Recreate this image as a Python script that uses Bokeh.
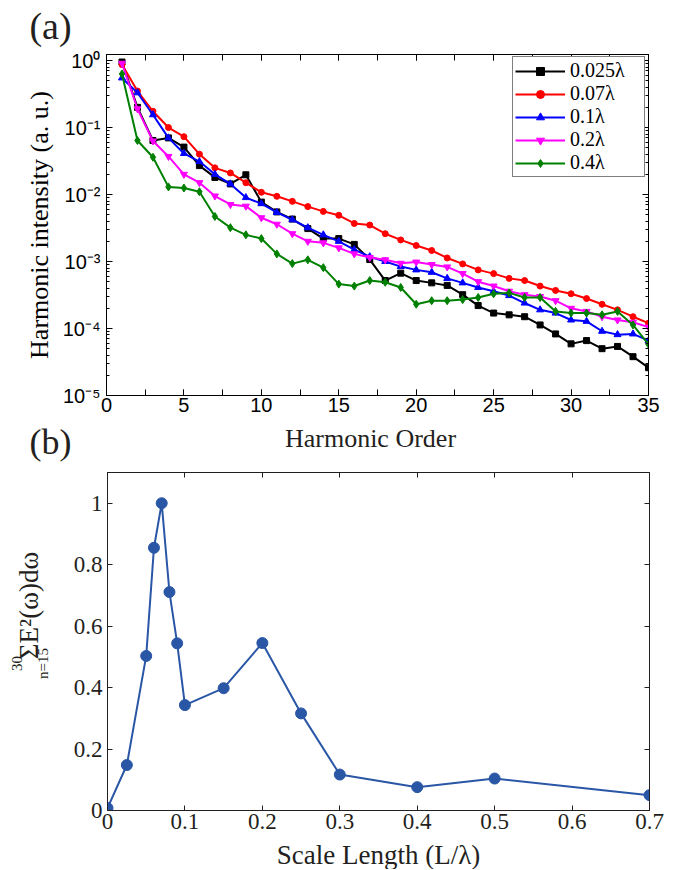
import math
from bokeh.plotting import figure
from bokeh.layouts import column, row
from bokeh.models import (Range1d, LogAxis, LinearAxis, LogTicker, SingleIntervalTicker, FixedTicker,
                          CustomJSTickFormatter, Legend, LegendItem, Label)
from bokeh.embed import file_html
from bokeh.resources import INLINE

# ---------------- data: panel (a) ----------------
harmonic_order = list(range(1, 36))
series_labels = ["0.025λ", "0.07λ", "0.1λ", "0.2λ", "0.4λ"]

int_0025 = [0.95, 0.20, 0.064, 0.070, 0.051, 0.027, 0.018, 0.0144, 0.0197, 0.0077,
            0.0055, 0.0043, 0.0031, 0.0022, 0.0022, 0.0018, 0.00107, 0.00052, 0.00067, 0.00052,
            0.00048, 0.00044, 0.00032, 0.00022, 0.00017, 0.00016, 0.00015, 0.000113, 0.000083, 0.000059,
            0.000066, 0.000050, 0.000054, 0.000038, 0.000026]
int_007 = [0.87, 0.35, 0.175, 0.10, 0.073, 0.040, 0.025, 0.021, 0.0150, 0.0108,
           0.0094, 0.0079, 0.0066, 0.0056, 0.0049, 0.0037, 0.0035, 0.0026, 0.0021, 0.00173,
           0.00146, 0.00113, 0.00092, 0.00075, 0.00066, 0.00056, 0.00052, 0.00043, 0.00037, 0.00033,
           0.00028, 0.00023, 0.00019, 0.00015, 0.00012]
int_01 = [0.55, 0.33, 0.155, 0.070, 0.041, 0.031, 0.020, 0.0144, 0.0090, 0.0073,
          0.0054, 0.0042, 0.0032, 0.0025, 0.0020, 0.0015, 0.00118, 0.0010, 0.00084, 0.00075,
          0.00069, 0.00056, 0.00048, 0.00041, 0.00036, 0.00031, 0.00024, 0.00019, 0.00017, 0.000134,
          0.000128, 0.000091, 0.000081, 0.000083, 0.000066]
int_02 = [0.91, 0.19, 0.063, 0.037, 0.020, 0.015, 0.0095, 0.0071, 0.0067, 0.0045,
          0.0036, 0.0026, 0.0020, 0.0019, 0.0016, 0.0013, 0.00115, 0.00106, 0.00094, 0.00098,
          0.00090, 0.00083, 0.00066, 0.00050, 0.00043, 0.00036, 0.00032, 0.00030, 0.00026, 0.00020,
          0.00018, 0.00015, 0.000134, 0.000124, 0.000105]
int_04 = [0.63, 0.064, 0.036, 0.013, 0.0125, 0.011, 0.0047, 0.0032, 0.0025, 0.0022,
          0.0013, 0.00093, 0.00106, 0.00081, 0.00046, 0.00043, 0.00052, 0.00049, 0.00041, 0.00023,
          0.00026, 0.00026, 0.00027, 0.00029, 0.00033, 0.00034, 0.00029, 0.00029, 0.00018, 0.00017,
          0.00017, 0.00016, 0.00018, 0.000113, 0.000058]

# ---------------- data: panel (b) ----------------
scale_length = [0, 0.025, 0.05, 0.06, 0.07, 0.08, 0.09, 0.1, 0.15, 0.2, 0.25, 0.3, 0.4, 0.5, 0.7]
energy = [0.008, 0.148, 0.503, 0.855, 1.0, 0.711, 0.544, 0.343, 0.398, 0.545, 0.316, 0.117, 0.076, 0.104, 0.05]
scale_ticks = [0, 0.1, 0.2, 0.3, 0.4, 0.5, 0.6, 0.7]
energy_ticks = [0, 0.2, 0.4, 0.6, 0.8, 1.0]

series_values = [int_0025, int_007, int_01, int_02, int_04]
colors = ["#000000", "#ff0000", "#0000ff", "#ff00ff", "#008000"]
markers = ["square", "circle", "triangle", "inverted_triangle", "diamond"]
msizes = [6, 6, 7, 7, 8]

SERIF = "Liberation Serif"
SANS = "Liberation Sans"
DARK = "#231f20"
W = 678


def style_axis(ax, tick_in=6, minor_in=3, color="black"):
    ax.major_tick_in = tick_in
    ax.major_tick_out = 0
    ax.minor_tick_in = minor_in
    ax.minor_tick_out = 0
    ax.axis_line_color = color
    ax.major_tick_line_color = color
    ax.minor_tick_line_color = color


def blank_formatter():
    return CustomJSTickFormatter(code="return ''")


def strip(w, h):
    s = figure(width=w, height=h, x_range=Range1d(0, 1), y_range=Range1d(0, 1),
               x_axis_location=None, y_axis_location=None, min_border=0,
               output_backend="svg", toolbar_location=None)
    s.frame_align = False
    s.grid.visible = False
    s.outline_line_color = None
    s.background_fill_color = "white"
    s.border_fill_color = "white"
    return s


def text_label(x, y, text, size, color, angle=0.0):
    return Label(x=x, y=y, x_units="screen", y_units="screen", text=text, angle=angle,
                 text_font=SERIF, text_font_size=size, text_color=color,
                 text_align="center", text_baseline="middle")


# ---------------- strip with "(a)" ----------------
strip_a = strip(W, 48)
strip_a.add_layout(text_label(50, 23, "(a)", "38px", DARK))

# ---------------- panel (a) ----------------
p1 = figure(width=W, height=373, y_axis_type="log",
            x_range=Range1d(0, 35), y_range=Range1d(1e-5, 1.23),
            output_backend="svg", toolbar_location=None,
            min_border_left=106, min_border_right=30, min_border_top=6, min_border_bottom=26)
p1.xgrid.visible = False
p1.ygrid.visible = False
p1.outline_line_color = "black"
p1.background_fill_color = "white"
p1.border_fill_color = "white"

p1.xaxis.ticker = SingleIntervalTicker(interval=5, num_minor_ticks=2)
p1.yaxis.ticker = LogTicker(num_minor_ticks=10)
sup_code = """
const e = Math.round(Math.log10(tick));
const sup = {"-":"\u207b","0":"\u2070","1":"\u00b9","2":"\u00b2","3":"\u00b3","4":"\u2074","5":"\u2075","6":"\u2076","7":"\u2077","8":"\u2078","9":"\u2079"};
return "10" + String(e).split("").map(c => sup[c]).join("");
"""
p1.yaxis.formatter = CustomJSTickFormatter(code=sup_code)
for ax in p1.xaxis + p1.yaxis:
    style_axis(ax, 6, 3)
    ax.major_label_text_font = SANS
    ax.major_label_text_font_size = "20px"
    ax.major_label_text_color = "black"
    ax.axis_label_text_font = SERIF
    ax.axis_label_text_font_size = "26px"
    ax.axis_label_text_font_style = "normal"
    ax.axis_label_text_color = "black"
p1.xaxis.major_label_standoff = 2
p1.xaxis.minor_tick_in = 6
p1.yaxis.major_label_standoff = 6
p1.yaxis.axis_label = "Harmonic intensity (a. u.)"
p1.yaxis.axis_label_standoff = 6

top1 = LinearAxis(ticker=SingleIntervalTicker(interval=5, num_minor_ticks=2), formatter=blank_formatter())
style_axis(top1, 6, 6)
top1.major_label_text_font_size = "0px"
top1.major_label_standoff = 0
p1.add_layout(top1, "above")
right1 = LogAxis(ticker=LogTicker(num_minor_ticks=10), formatter=blank_formatter())
style_axis(right1, 6, 3)
right1.major_label_text_font_size = "0px"
right1.major_label_standoff = 0
p1.add_layout(right1, "right")

items = []
for vals, lab, c, m, s in zip(series_values, series_labels, colors, markers, msizes):
    r_line = p1.line(harmonic_order, vals, line_color=c, line_width=2)
    r_pts = p1.scatter(harmonic_order, vals, marker=m, size=s, fill_color=c, line_color=c)
    items.append(LegendItem(label=lab, renderers=[r_line, r_pts]))

legend = Legend(items=items, location=(406, 218),
                label_text_font=SERIF, label_text_font_size="20px", label_text_color="black",
                glyph_width=50, glyph_height=20, label_height=20, label_width=72,
                spacing=0, padding=2, label_standoff=5, margin=0,
                border_line_color="black", border_line_width=1,
                background_fill_color="white", background_fill_alpha=1)
p1.add_layout(legend)

# ---------------- strip with x title of (a) and "(b)" ----------------
strip_mid = strip(W, 41)
strip_mid.add_layout(text_label(370, 24, "Harmonic Order", "26px", DARK))
strip_mid.add_layout(text_label(50, 21, "(b)", "36px", DARK))

# ---------------- panel (b) ----------------
H2 = 377
strip_l = strip(58, H2)
strip_l.add_layout(text_label(28, 234, "ΣE²(ω)dω", "27px", DARK, math.pi / 2))
strip_l.add_layout(text_label(16, 176, "30", "15px", DARK, math.pi / 2))
strip_l.add_layout(text_label(42, 176, "n=15", "15px", DARK, math.pi / 2))

p2 = figure(width=W - 58, height=H2,
            x_range=Range1d(0, 0.7), y_range=Range1d(0, 1.1),
            output_backend="svg", toolbar_location=None,
            min_border_left=49, min_border_right=29, min_border_top=10, min_border_bottom=29)
p2.xgrid.visible = False
p2.ygrid.visible = False
p2.outline_line_color = DARK
p2.background_fill_color = "white"
p2.border_fill_color = "white"

num_code = "return (Math.round(tick*10)/10).toString();"
p2.xaxis.ticker = FixedTicker(ticks=scale_ticks)
p2.yaxis.ticker = FixedTicker(ticks=energy_ticks)
p2.xaxis.formatter = CustomJSTickFormatter(code=num_code)
p2.yaxis.formatter = CustomJSTickFormatter(code=num_code)
for ax in p2.xaxis + p2.yaxis:
    style_axis(ax, 5, 0, DARK)
    ax.major_label_text_font = SERIF
    ax.major_label_text_font_size = "23px"
    ax.major_label_text_color = DARK
    ax.major_label_standoff = 5
p2.xaxis.major_label_standoff = 3

top2 = LinearAxis(ticker=FixedTicker(ticks=scale_ticks), formatter=blank_formatter())
style_axis(top2, 5, 0, DARK)
top2.major_label_text_font_size = "0px"
top2.major_label_standoff = 0
p2.add_layout(top2, "above")
right2 = LinearAxis(ticker=FixedTicker(ticks=energy_ticks), formatter=blank_formatter())
style_axis(right2, 5, 0, DARK)
right2.major_label_text_font_size = "0px"
right2.major_label_standoff = 0
p2.add_layout(right2, "right")

BLUE = "#2a56a6"
p2.line(scale_length, energy, line_color=BLUE, line_width=2)
p2.scatter(scale_length, energy, marker="circle", size=11, fill_color=BLUE, line_color=BLUE)

# ---------------- strip with x title of (b) ----------------
strip_b = strip(W, 30)
strip_b.add_layout(text_label(378, 15, "Scale Length (L/λ)", "27px", DARK))

layout = column(strip_a, p1, strip_mid, row(strip_l, p2, spacing=0), strip_b, spacing=0)
open("out.html", "w", encoding="utf-8").write(file_html(layout, INLINE))
